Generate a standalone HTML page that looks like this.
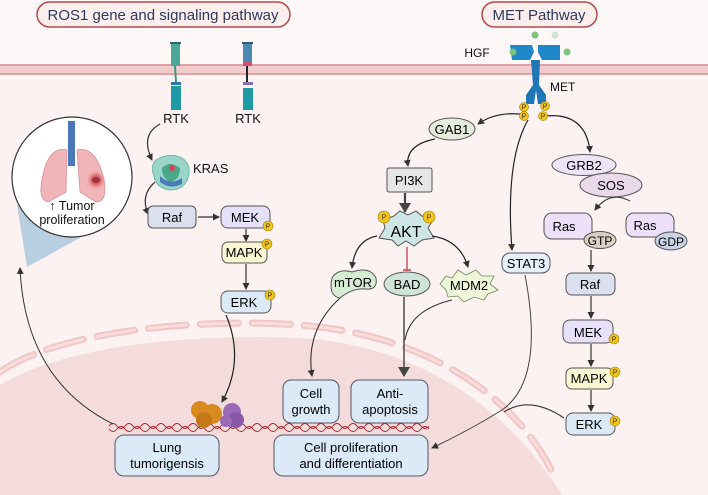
<!DOCTYPE html>
<html><head><meta charset="utf-8"><style>
html,body{margin:0;padding:0;background:#fff;}
svg{display:block;font-family:"Liberation Sans","DejaVu Sans",sans-serif;}
</style></head><body>
<svg width="708" height="495" viewBox="0 0 708 495" xmlns="http://www.w3.org/2000/svg">
<defs>
<marker id="ah" markerWidth="8" markerHeight="8" refX="6" refY="4" orient="auto" markerUnits="userSpaceOnUse"><path d="M0,0.5 L7,4 L0,7.5 Z" fill="#333"/></marker>
<marker id="ahb" markerWidth="12" markerHeight="12" refX="9" refY="6" orient="auto" markerUnits="userSpaceOnUse"><path d="M0,0 L10,6 L0,12 Z" fill="#444"/></marker>
<radialGradient id="tum"><stop offset="0" stop-color="#c0404a"/><stop offset="0.5" stop-color="#e07070"/><stop offset="1" stop-color="#f2b5b5" stop-opacity="0"/></radialGradient>
</defs>
<rect width="708" height="495" fill="#fcf2f2"/>
<rect width="708" height="64" fill="#fdf7f7"/>
<!-- membrane -->
<rect x="0" y="64" width="708" height="11" fill="#f2cccc"/>
<line x1="0" y1="65" x2="708" y2="65" stroke="#dca4a4" stroke-width="2"/>
<line x1="0" y1="74" x2="708" y2="74" stroke="#dca4a4" stroke-width="2"/>
<!-- nucleus -->
<path d="M0,385 C70,343 200,334 300,338 C420,345 510,410 562,495 L0,495 Z" fill="#f4dcdc"/>
<path d="M0,372 C60,330 200,318 300,325 C430,335 520,400 555,478" fill="none" stroke="#f0c6c6" stroke-width="7" stroke-linecap="round" stroke-dasharray="38,14"/>
<path d="M0,372 C60,330 200,318 300,325 C430,335 520,400 555,478" fill="none" stroke="#fadcdc" stroke-width="3" stroke-linecap="round" stroke-dasharray="38,14"/>
<!-- titles -->
<rect x="37" y="2" width="253" height="25" rx="12.5" fill="#fdeeee" stroke="#b24a4c" stroke-width="1.5"/>
<text x="163" y="20" font-size="15" text-anchor="middle" fill="#2a3a5a">ROS1 gene and signaling pathway</text>
<rect x="482" y="2" width="115" height="25" rx="12.5" fill="#fdeeee" stroke="#b24a4c" stroke-width="1.5"/>
<text x="539" y="20" font-size="15" text-anchor="middle" fill="#2a3a5a">MET Pathway</text>
<!-- RTKs -->
<g>
<rect x="171" y="42" width="9" height="24" fill="#4aa79a"/><rect x="170" y="42" width="11" height="2" fill="#2a6a7a"/>
<line x1="175" y1="66" x2="176" y2="82" stroke="#3a9a70" stroke-width="2"/>
<rect x="171" y="82" width="10" height="3" fill="#2a7ab0"/>
<rect x="171" y="86" width="10" height="24" fill="#1e9aa4"/>
<rect x="243" y="42" width="9" height="24" fill="#4a8ab0"/><rect x="242" y="42" width="11" height="2" fill="#2a5a7a"/>
<rect x="243" y="62" width="9" height="4" fill="#d05070"/>
<line x1="247" y1="66" x2="247" y2="82" stroke="#223" stroke-width="2"/>
<rect x="243" y="82" width="10" height="3" fill="#8a70b0"/>
<rect x="243" y="88" width="10" height="22" fill="#1e9aa4"/>
</g>
<text x="176" y="123" font-size="13" text-anchor="middle" fill="#111">RTK</text>
<text x="248" y="123" font-size="13" text-anchor="middle" fill="#111">RTK</text>
<!-- KRAS -->
<path d="M156,160 Q170,152 182,158 Q192,165 188,178 Q184,190 170,190 Q156,188 154,176 Q150,166 156,160 Z" fill="#9ad6c8" stroke="#6ab8a8"/>
<path d="M162,168 Q170,160 180,168 Q180,180 170,182 Q162,178 162,168Z" fill="#4aa88a"/>
<path d="M160,176 Q170,186 182,178 L182,184 Q170,190 160,182Z" fill="#4a7ab8"/>
<circle cx="172" cy="168" r="3" fill="#e04050"/>
<text x="193" y="173" font-size="13" fill="#111">KRAS</text>
<path d="M160,124 Q140,135 152,160" fill="none" stroke="#333" stroke-width="1.2" marker-end="url(#ah)"/>
<path d="M155,182 Q140,195 148,214" fill="none" stroke="#333" stroke-width="1.2" marker-end="url(#ah)"/>
<!-- lung circle -->
<path d="M17,205 L85,235 L27,267 Z" fill="#b8cfe2"/>
<circle cx="72" cy="177" r="60" fill="#fff" stroke="#333" stroke-width="1.2"/>
<rect x="68" y="121" width="7" height="45" fill="#4a78b8"/>
<path d="M67,150 Q48,145 42,180 Q38,200 48,202 L66,192 Z" fill="#f1b4b8" stroke="#d59098" stroke-width="0.8"/>
<path d="M77,150 Q96,145 104,180 Q108,202 96,202 L80,192 Z" fill="#f1b4b8" stroke="#d59098" stroke-width="0.8"/>
<circle cx="96" cy="180" r="10" fill="url(#tum)"/>
<ellipse cx="96" cy="180" rx="4" ry="3" fill="#a03040"/>
<text x="72" y="210" font-size="12.5" text-anchor="middle" fill="#111">↑ Tumor</text>
<text x="72" y="224" font-size="12.5" text-anchor="middle" fill="#111">proliferation</text>
<!-- left cascade -->
<rect x="148" y="206" width="48" height="22" rx="5" fill="#dcdfee" stroke="#555"/>
<text x="172" y="222" font-size="13" text-anchor="middle">Raf</text>
<line x1="198" y1="217" x2="219" y2="217" stroke="#333" stroke-width="1.2" marker-end="url(#ah)"/>
<rect x="221" y="206" width="49" height="22" rx="7" fill="#e6e0f8" stroke="#555"/>
<text x="245" y="222" font-size="13" text-anchor="middle">MEK</text>
<line x1="246" y1="229" x2="246" y2="241" stroke="#333" stroke-width="1.2" marker-end="url(#ah)"/>
<rect x="222" y="242" width="45" height="21" rx="6" fill="#faf6d2" stroke="#555"/>
<text x="244" y="257" font-size="13" text-anchor="middle">MAPK</text>
<line x1="246" y1="264" x2="246" y2="289" stroke="#333" stroke-width="1.2" marker-end="url(#ah)"/>
<rect x="221" y="291" width="50" height="22" rx="7" fill="#dbeaf6" stroke="#555"/>
<text x="244" y="307" font-size="13" text-anchor="middle">ERK</text>
<path d="M226,315 Q245,360 222,402" fill="none" stroke="#222" stroke-width="1.2" marker-end="url(#ah)"/>
<!-- MET receptor -->
<circle cx="535" cy="35" r="3.5" fill="#7bc47b"/><circle cx="555" cy="35" r="3.5" fill="#cfe6cf"/>
<path d="M510,45 L532,45 L534,52 L530,60 L512,60 Z" fill="#1e88c8"/>
<path d="M538,45 L560,45 L560,60 L542,60 L538,52 Z" fill="#1e88c8"/>
<circle cx="513" cy="52" r="3.5" fill="#7bc47b"/><circle cx="567" cy="52" r="3.5" fill="#7bc47b"/>
<path d="M531,60 L533,85 L526,95 L526,104 L534,104 L536,90 L538,104 L546,104 L546,95 L539,85 L540,60 Z" fill="#1e78b8"/>
<text x="477" y="57" font-size="12" text-anchor="middle" fill="#111">HGF</text>
<text x="550" y="91" font-size="12" fill="#111">MET</text>
<!-- GAB1 etc -->
<ellipse cx="452" cy="129" rx="23" ry="11" fill="#e5ecdc" stroke="#555"/>
<text x="452" y="134" font-size="13" text-anchor="middle">GAB1</text>
<path d="M520,114 Q495,112 478,124" fill="none" stroke="#222" stroke-width="1.2" marker-end="url(#ah)"/>
<path d="M435,139 Q405,145 408,166" fill="none" stroke="#222" stroke-width="1.2" marker-end="url(#ah)"/>
<rect x="387" y="168" width="45" height="24" rx="2" fill="#e6e6e6" stroke="#555"/>
<text x="409" y="185" font-size="13" text-anchor="middle">PI3K</text>
<line x1="405" y1="193" x2="405" y2="212" stroke="#444" stroke-width="2.2" marker-end="url(#ahb)"/>
<!-- AKT star -->
<path d="M383,220 L394,216 L400,211 L408,215 L416,211 L422,216 L433,220 L428,228 L434,238 L422,240 L414,246 L406,241 L398,246 L392,240 L379,238 L385,228 Z" fill="#cfe6e6" stroke="#555"/>
<text x="406" y="237" font-size="16" text-anchor="middle">AKT</text>
<path d="M377,236 Q355,240 352,268" fill="none" stroke="#222" stroke-width="1.2" marker-end="url(#ah)"/>
<path d="M432,236 Q460,240 468,267" fill="none" stroke="#222" stroke-width="1.2" marker-end="url(#ah)"/>
<line x1="407" y1="247" x2="407" y2="270" stroke="#c04050" stroke-width="1.3"/>
<line x1="403" y1="270" x2="411" y2="270" stroke="#c04050" stroke-width="1.5"/>
<!-- mTOR BAD MDM2 -->
<path d="M332,278 Q338,268 352,272 Q370,266 376,278 Q378,290 366,289 Q352,288 340,298 Q328,296 332,278 Z" fill="#d5ecd3" stroke="#555"/>
<text x="353" y="287" font-size="13" text-anchor="middle">mTOR</text>
<ellipse cx="407" cy="284" rx="23" ry="12" fill="#cfe3d9" stroke="#555"/>
<text x="407" y="289" font-size="13" text-anchor="middle">BAD</text>
<path d="M440,284 L446,276 L452,278 L458,270 L466,275 L476,270 L482,276 L494,276 L490,284 L498,290 L488,294 L484,300 L474,297 L464,302 L458,296 L448,297 L446,290 Z" fill="#eef5d8" stroke="#6a8a5a" stroke-width="0.8"/>
<text x="469" y="290" font-size="13" text-anchor="middle">MDM2</text>
<!-- STAT3 -->
<rect x="502" y="253" width="48" height="20" rx="8" fill="#e4effa" stroke="#556"/>
<text x="526" y="268" font-size="13" text-anchor="middle">STAT3</text>
<path d="M528,120 Q505,160 512,250" fill="none" stroke="#222" stroke-width="1.2" marker-end="url(#ah)"/>
<path d="M525,275 Q545,380 502,410 Q470,430 432,448" fill="none" stroke="#444" stroke-width="1" marker-end="url(#ah)"/>
<!-- GRB2/SOS -->
<path d="M545,116 Q586,112 590,152" fill="none" stroke="#222" stroke-width="1.2" marker-end="url(#ah)"/>
<ellipse cx="584" cy="165" rx="32" ry="10.5" fill="#ede4f8" stroke="#555"/>
<text x="584" y="170" font-size="13" text-anchor="middle">GRB2</text>
<ellipse cx="611" cy="185" rx="31" ry="12" fill="#ead9ea" stroke="#555"/>
<text x="611" y="190" font-size="13" text-anchor="middle">SOS</text>
<path d="M630,201 Q610,190 595,210" fill="none" stroke="#444" stroke-width="1.2" marker-end="url(#ah)"/>
<rect x="544" y="213" width="48" height="26" rx="8" fill="#ede0f8" stroke="#555"/>
<text x="564" y="231" font-size="13" text-anchor="middle">Ras</text>
<ellipse cx="600" cy="240" rx="16" ry="8.5" fill="#dccfc0" stroke="#555"/>
<text x="600" y="245" font-size="12" text-anchor="middle">GTP</text>
<rect x="626" y="213" width="48" height="24" rx="8" fill="#ede0f8" stroke="#555"/>
<text x="645" y="230" font-size="13" text-anchor="middle">Ras</text>
<ellipse cx="671" cy="241" rx="16" ry="9" fill="#c8d4e6" stroke="#555"/>
<text x="671" y="246" font-size="12" text-anchor="middle">GDP</text>
<!-- right cascade -->
<line x1="591" y1="250" x2="591" y2="271" stroke="#333" stroke-width="1.2" marker-end="url(#ah)"/>
<rect x="566" y="273" width="49" height="22" rx="6" fill="#dcdfee" stroke="#555"/>
<text x="590" y="289" font-size="13" text-anchor="middle">Raf</text>
<line x1="591" y1="296" x2="591" y2="318" stroke="#333" stroke-width="1.2" marker-end="url(#ah)"/>
<rect x="563" y="320" width="50" height="23" rx="7" fill="#e6e0f8" stroke="#555"/>
<text x="588" y="337" font-size="13" text-anchor="middle">MEK</text>
<line x1="591" y1="344" x2="591" y2="366" stroke="#333" stroke-width="1.2" marker-end="url(#ah)"/>
<rect x="566" y="368" width="47" height="21" rx="6" fill="#faf6d2" stroke="#555"/>
<text x="589" y="383" font-size="13" text-anchor="middle">MAPK</text>
<line x1="591" y1="390" x2="591" y2="411" stroke="#333" stroke-width="1.2" marker-end="url(#ah)"/>
<rect x="566" y="413" width="49" height="22" rx="7" fill="#dbeaf6" stroke="#555"/>
<text x="589" y="429" font-size="13" text-anchor="middle">ERK</text>
<path d="M564,418 Q530,395 504,412" fill="none" stroke="#333" stroke-width="1.1"/>
<!-- down arrows to outcomes -->
<path d="M340,298 Q305,330 312,376" fill="none" stroke="#333" stroke-width="1.1" marker-end="url(#ah)"/>
<line x1="404" y1="297" x2="404" y2="376" stroke="#555" stroke-width="1.6" marker-end="url(#ahb)"/>
<path d="M452,300 Q410,310 405,340" fill="none" stroke="#333" stroke-width="1.1"/>
<!-- DNA -->
<g stroke="#a02a30" stroke-width="1" fill="none">
<path d="M109,426 q4,-5 8,0 t8,0 t8,0 t8,0 t8,0 t8,0 t8,0 t8,0 t8,0 t8,0 t8,0 t8,0 t8,0 t8,0 t8,0 t8,0 t8,0 t8,0 t8,0 t8,0 t8,0 t8,0 t8,0 t8,0 t8,0 t8,0 t8,0 t8,0 t8,0 t8,0 t8,0 t8,0 t8,0 t8,0 t8,0 t8,0 t8,0 t8,0 t8,0 t8,0"/>
<path d="M109,429 q4,5 8,0 t8,0 t8,0 t8,0 t8,0 t8,0 t8,0 t8,0 t8,0 t8,0 t8,0 t8,0 t8,0 t8,0 t8,0 t8,0 t8,0 t8,0 t8,0 t8,0 t8,0 t8,0 t8,0 t8,0 t8,0 t8,0 t8,0 t8,0 t8,0 t8,0 t8,0 t8,0 t8,0 t8,0 t8,0 t8,0 t8,0 t8,0 t8,0 t8,0"/>
</g>
<!-- proteins -->
<circle cx="200" cy="410" r="9" fill="#d98a1e"/><circle cx="212" cy="414" r="10" fill="#d98a1e"/><circle cx="204" cy="420" r="8" fill="#c47818"/>
<circle cx="232" cy="412" r="9" fill="#9b6ab8"/><circle cx="236" cy="420" r="8" fill="#8a58a8"/><circle cx="226" cy="421" r="6" fill="#9b6ab8"/>
<!-- outcome boxes -->
<rect x="283" y="380" width="56" height="43" rx="8" fill="#dbeaf6" stroke="#556"/>
<text x="311" y="398" font-size="13" text-anchor="middle">Cell</text>
<text x="311" y="414" font-size="13" text-anchor="middle">growth</text>
<rect x="351" y="380" width="77" height="43" rx="8" fill="#dbeaf6" stroke="#556"/>
<text x="390" y="398" font-size="13" text-anchor="middle">Anti-</text>
<text x="390" y="414" font-size="13" text-anchor="middle">apoptosis</text>
<rect x="274" y="435" width="154" height="41" rx="9" fill="#dbeaf6" stroke="#556"/>
<text x="351" y="452" font-size="13" text-anchor="middle">Cell proliferation</text>
<text x="351" y="468" font-size="13" text-anchor="middle">and differentiation</text>
<rect x="115" y="435" width="104" height="41" rx="9" fill="#dbeaf6" stroke="#556"/>
<text x="167" y="452" font-size="13" text-anchor="middle">Lung</text>
<text x="167" y="468" font-size="13" text-anchor="middle">tumorigensis</text>
<path d="M113,424 Q25,380 20,268" fill="none" stroke="#333" stroke-width="1" marker-end="url(#ah)"/>
<!-- P circles -->
<g font-size="7" text-anchor="middle" fill="#333">
<circle cx="268" cy="226" r="5" fill="#f2c318" stroke="#a08010" stroke-width="0.6"/><text x="268" y="228.5">P</text>
<circle cx="267" cy="244" r="5" fill="#f2c318" stroke="#a08010" stroke-width="0.6"/><text x="267" y="246.5">P</text>
<circle cx="270" cy="295" r="5" fill="#f2c318" stroke="#a08010" stroke-width="0.6"/><text x="270" y="297.5">P</text>
<circle cx="524" cy="107" r="4.5" fill="#f2c318" stroke="#a08010" stroke-width="0.6"/><text x="524" y="109.5">P</text>
<circle cx="545" cy="106" r="4.5" fill="#f2c318" stroke="#a08010" stroke-width="0.6"/><text x="545" y="108.5">P</text>
<circle cx="524" cy="116" r="4.5" fill="#f2c318" stroke="#a08010" stroke-width="0.6"/><text x="524" y="118.5">P</text>
<circle cx="543" cy="116" r="4.5" fill="#f2c318" stroke="#a08010" stroke-width="0.6"/><text x="543" y="118.5">P</text>
<circle cx="384" cy="217" r="6" fill="#f2c318" stroke="#a08010" stroke-width="0.6"/><text x="384" y="219.5">P</text>
<circle cx="429" cy="217" r="6" fill="#f2c318" stroke="#a08010" stroke-width="0.6"/><text x="429" y="219.5">P</text>
<circle cx="614" cy="339" r="5" fill="#f2c318" stroke="#a08010" stroke-width="0.6"/><text x="614" y="341.5">P</text>
<circle cx="615" cy="372" r="5" fill="#f2c318" stroke="#a08010" stroke-width="0.6"/><text x="615" y="374.5">P</text>
<circle cx="615" cy="421" r="5" fill="#f2c318" stroke="#a08010" stroke-width="0.6"/><text x="615" y="423.5">P</text>
</g>
</svg>
</body></html>
